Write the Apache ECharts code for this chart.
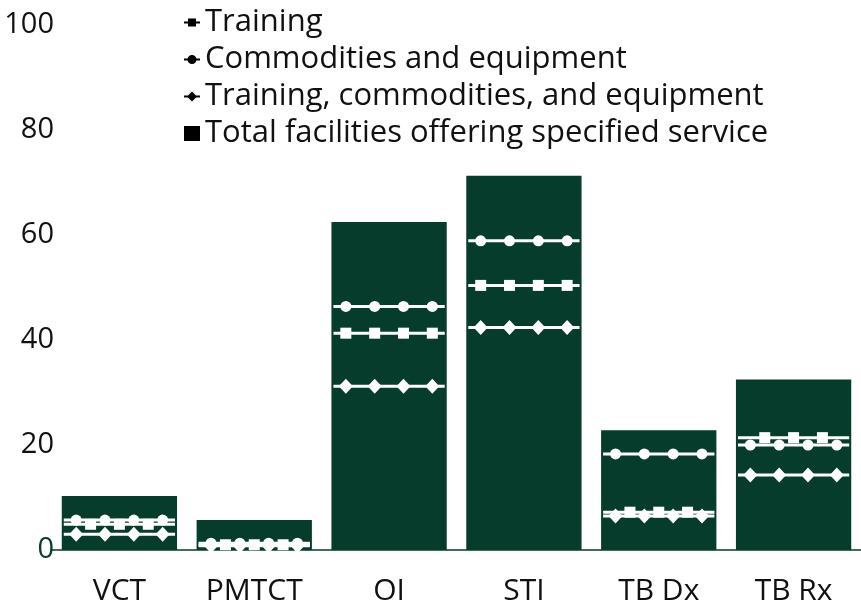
<!DOCTYPE html>
<html>
<head>
<meta charset="UTF-8">
<title>Facilities offering specified service</title>
<script src="https://cdn.jsdelivr.net/npm/echarts@6/dist/echarts.min.js"></script>
<style>
	html, body { margin: 0; padding: 0; background: #fff; }
	#chart { width: 861px; height: 606px; }
</style>
</head>
<body>
<div id="chart"></div>
<script type="text/javascript">
	var categories = ['VCT', 'PMTCT', 'OI', 'STI', 'TB Dx', 'TB Rx'];
	var totalFacilities = [10.3, 5.7, 62.5, 71.3, 22.8, 32.5];
	var training = [4.9, 1.0, 41.3, 50.4, 7.2, 21.4];
	var commodities = [5.7, 1.3, 46.4, 58.9, 18.3, 20.0];
	var trainingCommodities = [3.0, 0.8, 31.2, 42.4, 6.5, 14.3];
	var yTicks = [0, 20, 40, 60, 80, 100];

	var GREEN = '#053c2b';
	var FONT = 'Open Sans';
	var BAR_FRACTION = 0.855;

	// legend icons: marker with a short line through it
	var iconSquare = 'path://M0,4H4V1H12V4H16V6H12V9H4V6H0Z';
	var iconCircle = 'path://M0,4H16V6H0Z M3.5,5A4.5,4.5 0 1 1 12.5,5A4.5,4.5 0 1 1 3.5,5Z';
	var iconDiamond = 'path://M0,4H4L8,0L12,4H16V6H12L8,10L4,6H0Z';

	function markerShape(kind, cx, cy) {
		if (kind === 'circle') {
			return { type: 'circle', shape: { cx: cx, cy: cy, r: 5.5 }, style: { fill: '#fff' } };
		}
		if (kind === 'square') {
			return { type: 'rect', shape: { x: cx - 5.5, y: cy - 5.5, width: 11, height: 11 }, style: { fill: '#fff' } };
		}
		return {
			type: 'polygon',
			shape: { points: [[cx, cy - 7.5], [cx + 7, cy], [cx, cy + 7.5], [cx - 7, cy]] },
			style: { fill: '#fff' }
		};
	}

	// squares sit between the other markers when their line is crowded
	function isCrowded(i) {
		return Math.abs(training[i] - commodities[i]) < 3 ||
			Math.abs(training[i] - trainingCommodities[i]) < 3;
	}

	function markerSeries(name, values, kind) {
		return {
			name: name,
			type: 'custom',
			z: 3,
			data: values.map(function (v, i) { return [i, v]; }),
			renderItem: function (params, api) {
				var idx = api.value(0);
				var pt = api.coord([idx, api.value(1)]);
				var bw = api.size([1, 0])[0] * BAR_FRACTION;
				var x0 = pt[0] - bw / 2;
				var fr = [0.125, 0.375, 0.625, 0.875];
				if (kind === 'square' && isCrowded(idx)) {
					fr = [0.25, 0.5, 0.75];
				}
				var children = [{
					type: 'line',
					shape: { x1: x0 + 2, y1: pt[1], x2: x0 + bw - 2, y2: pt[1] },
					style: { stroke: '#fff', lineWidth: 3 }
				}];
				fr.forEach(function (f) {
					children.push(markerShape(kind, x0 + bw * f, pt[1]));
				});
				return { type: 'group', children: children };
			}
		};
	}

	var chart = echarts.init(document.getElementById('chart'));
	var options = {
		animation: false,
		textStyle: { fontFamily: FONT },
		legend: {
			orient: 'vertical',
			left: 184,
			top: 7,
			padding: 0,
			itemWidth: 16,
			itemHeight: 15,
			itemGap: 6,
			selectedMode: false,
			textStyle: { fontFamily: FONT, fontSize: 31, lineHeight: 31, color: '#111' },
			data: [
				{ name: 'Training', icon: iconSquare, itemStyle: { color: '#000' } },
				{ name: 'Commodities and equipment', icon: iconCircle, itemStyle: { color: '#000' } },
				{ name: 'Training, commodities, and equipment', icon: iconDiamond, itemStyle: { color: '#000' } },
				{ name: 'Total facilities offering specified service', icon: 'rect', itemStyle: { color: '#000' } }
			]
		},
		grid: {
			left: 52,
			right: -6,
			top: 25,
			bottom: 55
		},
		xAxis: {
			type: 'category',
			data: categories,
			axisTick: { show: false },
			axisLine: { lineStyle: { color: GREEN, width: 1.5 } },
			axisLabel: { fontFamily: FONT, fontSize: 30, color: '#111', margin: 26 }
		},
		yAxis: {
			type: 'value',
			min: yTicks[0],
			max: yTicks[yTicks.length - 1],
			interval: 20,
			axisLine: { show: false },
			axisTick: { show: false },
			splitLine: { show: false },
			axisLabel: {
				fontFamily: FONT,
				fontSize: 29,
				margin: -2,
				color: function (value) { return value == 0 ? GREEN : '#111'; }
			}
		},
		series: [
			{
				name: 'Total facilities offering specified service',
				type: 'bar',
				data: totalFacilities,
				barWidth: (BAR_FRACTION * 100) + '%',
				itemStyle: { color: GREEN },
				z: 2
			},
			markerSeries('Training', training, 'square'),
			markerSeries('Commodities and equipment', commodities, 'circle'),
			markerSeries('Training, commodities, and equipment', trainingCommodities, 'diamond')
		]
	};
	chart.setOption(options);
	window.addEventListener('resize', function () { chart.resize(); });
</script>
</body>
</html>
